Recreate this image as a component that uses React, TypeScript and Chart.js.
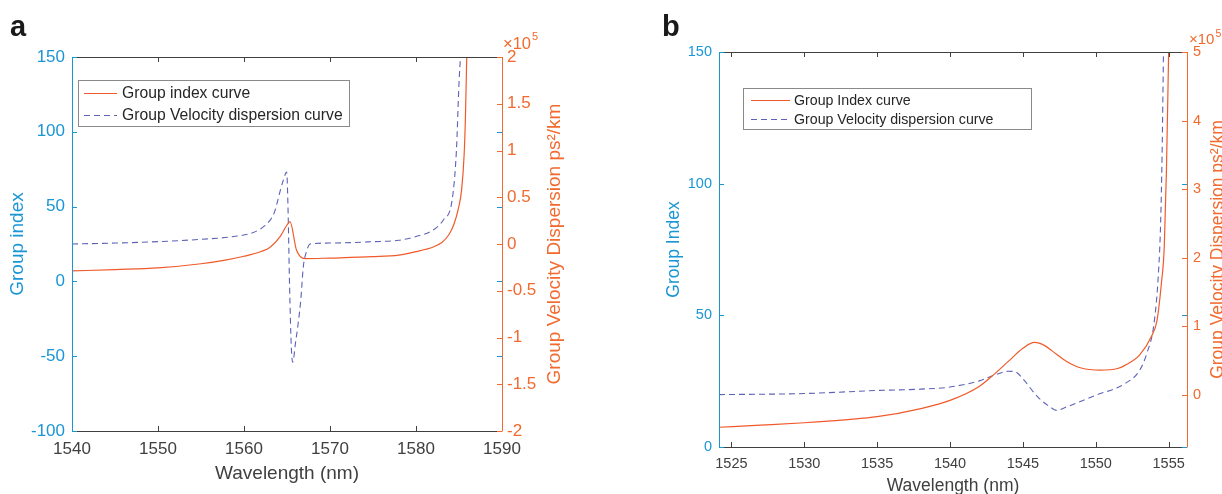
import React, { useEffect, useRef } from 'react';
import { Chart, registerables } from 'chart.js';

Chart.register(...registerables);

// ---------- Panel a data ----------
const A_WL_INDEX = [1540, 1545, 1550, 1555, 1558, 1560, 1562, 1563, 1564.2, 1565, 1565.35, 1566.1, 1567.1, 1570, 1575, 1578, 1580, 1582, 1583, 1583.8, 1584.4, 1584.9, 1585.3, 1585.6, 1585.75, 1585.9];
const A_GROUP_INDEX = [7, 7.9, 9, 11.8, 14.4, 16.8, 20, 22.6, 29.9, 37.7, 39.9, 21, 15.2, 15.6, 16.5, 17.6, 19.9, 23, 26, 31, 38, 48, 61, 85, 110, 150];
const A_WL_GVD = [1540, 1545, 1550, 1555, 1558.8, 1561, 1562.2, 1563, 1563.5, 1563.8, 1564.3, 1564.6, 1564.96, 1565.1, 1565.3, 1565.5, 1565.66, 1566, 1566.3, 1566.6, 1566.9, 1567.2, 1567.7, 1570, 1575, 1578, 1580, 1582, 1583.2, 1584.2, 1584.7, 1585, 1585.2];
const A_GVD = [0, 0.01, 0.025, 0.05, 0.08, 0.12, 0.18, 0.25, 0.33, 0.42, 0.6, 0.69, 0.77, 0.45, -0.45, -1.1, -1.265, -1.05, -0.85, -0.6, -0.24, -0.1, 0, 0.01, 0.025, 0.04, 0.08, 0.15, 0.26, 0.47, 1.0, 1.72, 2.05];
const A_X_TICKS = [1540, 1550, 1560, 1570, 1580, 1590];
const A_YL_TICKS = [-100, -50, 0, 50, 100, 150];
const A_YR_TICKS = [-2, -1.5, -1, -0.5, 0, 0.5, 1, 1.5, 2];
const A_LABELS = ['Group index curve', 'Group Velocity dispersion curve'];
const A_TITLES = ['Wavelength (nm)', 'Group index', 'Group Velocity Dispersion ps²/km'];

// ---------- Panel b data ----------
const B_WL_INDEX = [1524.15, 1527, 1530, 1533, 1535, 1538, 1540, 1542, 1543, 1544, 1545, 1545.8, 1546.5, 1547, 1548, 1549, 1550.3, 1551.5, 1552, 1553, 1553.8, 1554.2, 1554.5, 1554.7, 1554.85, 1555.0];
const B_GROUP_INDEX = [7.5, 8.3, 9.2, 10.4, 11.5, 14.6, 17.7, 23, 27.5, 32.5, 37.5, 39.7, 38.5, 36.5, 32.5, 30, 29.2, 29.8, 31, 34.9, 41.8, 48, 62, 76, 105, 150];
const B_WL_GVD = [1524.15, 1530, 1535, 1538, 1540, 1542, 1543, 1544, 1544.5, 1545, 1546, 1547, 1547.3, 1548, 1550, 1552, 1553, 1553.5, 1554, 1554.3, 1554.45, 1554.55, 1554.65];
const B_GVD = [0, 0.015, 0.06, 0.08, 0.11, 0.2, 0.28, 0.34, 0.33, 0.23, -0.03, -0.2, -0.23, -0.18, -0.01, 0.16, 0.35, 0.6, 1.04, 1.77, 2.5, 3.5, 5.05];
const B_X_TICKS = [1525, 1530, 1535, 1540, 1545, 1550, 1555];
const B_YL_TICKS = [0, 50, 100, 150];
const B_YR_TICKS = [0, 1, 2, 3, 4, 5];
const B_LABELS = ['Group Index curve', 'Group Velocity dispersion curve'];
const B_TITLES = ['Wavelength (nm)', 'Group Index', 'Group Velocity Dispersion ps²/km'];

// ---------- styles ----------
const FONT = "'Liberation Sans', Arial, Helvetica, sans-serif";
const BLUE = '#1a96d4';
const ORANGE_AXIS = '#f26a2e';
const ORANGE_LINE = '#f05a2a';
const DASH_BLUE = '#5c62b5';
const GRAY = '#404040';
const H = 494;

type Spec = any;

const SPEC_A: Spec = {
  left: 0, w: 611,
  plot: { left: 72, right: 502, top: 57, bottom: 431 },
  xRange: [1540, 1590], ylRange: [-100, 150], yrRange: [-2, 2],
  wlIndex: A_WL_INDEX, index: A_GROUP_INDEX, wlGvd: A_WL_GVD, gvd: A_GVD,
  xTicks: A_X_TICKS, ylTicks: A_YL_TICKS, yrTicks: A_YR_TICKS,
  labels: A_LABELS, titles: A_TITLES,
  tickFont: 17, titleFont: 19, xPad: 8, ylPad: 7, yrPad: 5,
  xTitleY: 479, ylTitleX: 23, yrTitleX: 560,
  letter: 'a', letterX: 10, letterY: 36,
  expX: 503, expY: 48.5, expFont: 16.5, supFont: 11, supDy: 8.5,
  legend: { x1: 78, y1: 80, x2: 349, y2: 126, rows: [93, 115], sx1: 84, sx2: 117, tx: 122, font: 15.7 },
};

const SPEC_B: Spec = {
  left: 611, w: 611,
  plot: { left: 108, right: 576, top: 52, bottom: 447 },
  xRange: [1524.15, 1556.26], ylRange: [0, 150], yrRange: [-0.765, 5],
  wlIndex: B_WL_INDEX, index: B_GROUP_INDEX, wlGvd: B_WL_GVD, gvd: B_GVD,
  xTicks: B_X_TICKS, ylTicks: B_YL_TICKS, yrTicks: B_YR_TICKS,
  labels: B_LABELS, titles: B_TITLES,
  tickFont: 14.5, titleFont: 17.5, xPad: 8, ylPad: 7, yrPad: 6,
  xTitleY: 490.5, ylTitleX: 68, yrTitleX: 611.5,
  letter: 'b', letterX: 51, letterY: 36,
  expX: 578, expY: 44, expFont: 15, supFont: 10.5, supDy: 7.5,
  legend: { x1: 132, y1: 88, x2: 420, y2: 129, rows: [100, 119], sx1: 140, sx2: 179, tx: 183, font: 14.2 },
};

function makeDecor(p: Spec) {
  return {
    id: 'decor' + p.letter,
    afterDraw(chart: any) {
      const ctx = chart.ctx as CanvasRenderingContext2D;
      const { left, right, top, bottom } = chart.chartArea;
      const sx = chart.scales.x, syl = chart.scales.y, syr = chart.scales.y1;
      const L = 5;
      ctx.save();
      ctx.lineWidth = 1;
      const px = (v: number) => Math.round(v) + 0.5;

      // x ticks (bottom and top, inward)
      ctx.strokeStyle = GRAY;
      ctx.beginPath();
      p.xTicks.forEach((v: number) => {
        const x = px(sx.getPixelForValue(v));
        ctx.moveTo(x, bottom); ctx.lineTo(x, bottom - L);
        ctx.moveTo(x, top); ctx.lineTo(x, top + L);
      });
      ctx.moveTo(left, px(top)); ctx.lineTo(right, px(top));
      ctx.moveTo(left, px(bottom)); ctx.lineTo(right, px(bottom));
      ctx.stroke();

      // left axis (blue) + mirrored ticks on right
      ctx.strokeStyle = BLUE;
      ctx.beginPath();
      ctx.moveTo(px(left), top); ctx.lineTo(px(left), bottom + 0.5);
      p.ylTicks.forEach((v: number) => {
        const y = px(syl.getPixelForValue(v));
        ctx.moveTo(left, y); ctx.lineTo(left + L, y);
        ctx.moveTo(right, y); ctx.lineTo(right - L, y);
      });
      ctx.stroke();

      // right axis (orange)
      ctx.strokeStyle = ORANGE_AXIS;
      ctx.beginPath();
      ctx.moveTo(px(right), top); ctx.lineTo(px(right), bottom + 0.5);
      p.yrTicks.forEach((v: number) => {
        const y = px(syr.getPixelForValue(v));
        ctx.moveTo(right, y); ctx.lineTo(right - L, y);
      });
      ctx.stroke();

      // legend
      const lg = p.legend;
      ctx.fillStyle = '#ffffff';
      ctx.fillRect(lg.x1, lg.y1, lg.x2 - lg.x1, lg.y2 - lg.y1);
      ctx.strokeStyle = '#8a8a8a';
      ctx.strokeRect(lg.x1 + 0.5, lg.y1 + 0.5, lg.x2 - lg.x1, lg.y2 - lg.y1);
      const ds = chart.data.datasets;
      ctx.font = `${lg.font}px ${FONT}`;
      ctx.textBaseline = 'middle';
      ctx.textAlign = 'left';
      ds.forEach((d: any, i: number) => {
        const y = lg.rows[i] + 0.5;
        ctx.strokeStyle = d.borderColor;
        ctx.lineWidth = d.borderWidth;
        ctx.setLineDash(d.borderDash || []);
        ctx.beginPath();
        ctx.moveTo(lg.sx1, y); ctx.lineTo(lg.sx2, y);
        ctx.stroke();
        ctx.setLineDash([]);
        ctx.fillStyle = '#262626';
        ctx.fillText(d.label, lg.tx, lg.rows[i] + 1);
      });

      // titles
      ctx.textBaseline = 'alphabetic';
      ctx.font = `${p.titleFont}px ${FONT}`;
      ctx.fillStyle = GRAY;
      ctx.textAlign = 'center';
      ctx.fillText(p.titles[0], (left + right) / 2, p.xTitleY);
      const rot = (text: string, x: number, color: string) => {
        ctx.save();
        ctx.translate(x, (top + bottom) / 2);
        ctx.rotate(-Math.PI / 2);
        ctx.fillStyle = color;
        ctx.textAlign = 'center';
        ctx.fillText(text, 0, 0);
        ctx.restore();
      };
      rot(p.titles[1], p.ylTitleX, BLUE);
      rot(p.titles[2], p.yrTitleX, ORANGE_AXIS);

      // exponent ×10^5
      ctx.fillStyle = ORANGE_AXIS;
      ctx.textAlign = 'left';
      ctx.font = `${p.expFont}px ${FONT}`;
      const base = '×10';
      ctx.fillText(base, p.expX, p.expY);
      const wBase = ctx.measureText(base).width;
      ctx.font = `${p.supFont}px ${FONT}`;
      ctx.fillText('5', p.expX + wBase + 1, p.expY - p.supDy);

      // panel letter
      ctx.fillStyle = '#1a1a1a';
      ctx.font = `bold 29px ${FONT}`;
      ctx.fillText(p.letter, p.letterX, p.letterY);

      ctx.restore();
    },
  };
}

function makeConfig(p: Spec): any {
  const mk = (xs: number[], ys: number[]) => xs.map((x, i) => ({ x, y: ys[i] }));
  const fmt = (v: any) => String(v);
  const common = (ticks: number[], color: string, pad: number) => ({
    type: 'linear',
    grid: { display: false, drawTicks: false },
    border: { display: false },
    ticks: { font: { size: p.tickFont, family: FONT }, color, padding: pad, autoSkip: false, maxRotation: 0, callback: fmt },
    afterBuildTicks: (s: any) => { s.ticks = ticks.map((v) => ({ value: v })); },
  });
  return {
    type: 'line',
    data: {
      datasets: [
        { label: p.labels[0], data: mk(p.wlIndex, p.index), yAxisID: 'y', borderColor: ORANGE_LINE, borderWidth: 1.2, pointRadius: 0, cubicInterpolationMode: 'monotone', fill: false },
        { label: p.labels[1], data: mk(p.wlGvd, p.gvd), yAxisID: 'y1', borderColor: DASH_BLUE, borderWidth: 1.1, borderDash: [6, 4], pointRadius: 0, cubicInterpolationMode: 'monotone', fill: false },
      ],
    },
    options: {
      animation: false,
      responsive: false,
      devicePixelRatio: 1,
      layout: { padding: { top: p.plot.top, left: 0, right: 0, bottom: 0 } },
      plugins: { legend: { display: false }, tooltip: { enabled: false } },
      scales: {
        x: { ...common(p.xTicks, GRAY, p.xPad), position: 'bottom', min: p.xRange[0], max: p.xRange[1], afterFit: (s: any) => { s.height = H - p.plot.bottom; } },
        y: { ...common(p.ylTicks, BLUE, p.ylPad), position: 'left', min: p.ylRange[0], max: p.ylRange[1], afterFit: (s: any) => { s.width = p.plot.left; } },
        y1: { ...common(p.yrTicks, ORANGE_AXIS, p.yrPad), position: 'right', min: p.yrRange[0], max: p.yrRange[1], afterFit: (s: any) => { s.width = p.w - p.plot.right; } },
      },
    },
    plugins: [makeDecor(p)],
  };
}

function Panel({ spec }: { spec: Spec }) {
  const ref = useRef<HTMLCanvasElement>(null);
  useEffect(() => {
    const chart = new Chart(ref.current as HTMLCanvasElement, makeConfig(spec));
    return () => chart.destroy();
  }, [spec]);
  return (
    <canvas
      ref={ref}
      width={spec.w}
      height={H}
      style={{ position: 'absolute', left: spec.left, top: 0, width: spec.w, height: H }}
    />
  );
}

export default function App() {
  return (
    <div style={{ position: 'absolute', left: 0, top: 0, width: 1222, height: H, background: '#ffffff', overflow: 'hidden' }}>
      <Panel spec={SPEC_A} />
      <Panel spec={SPEC_B} />
    </div>
  );
}
